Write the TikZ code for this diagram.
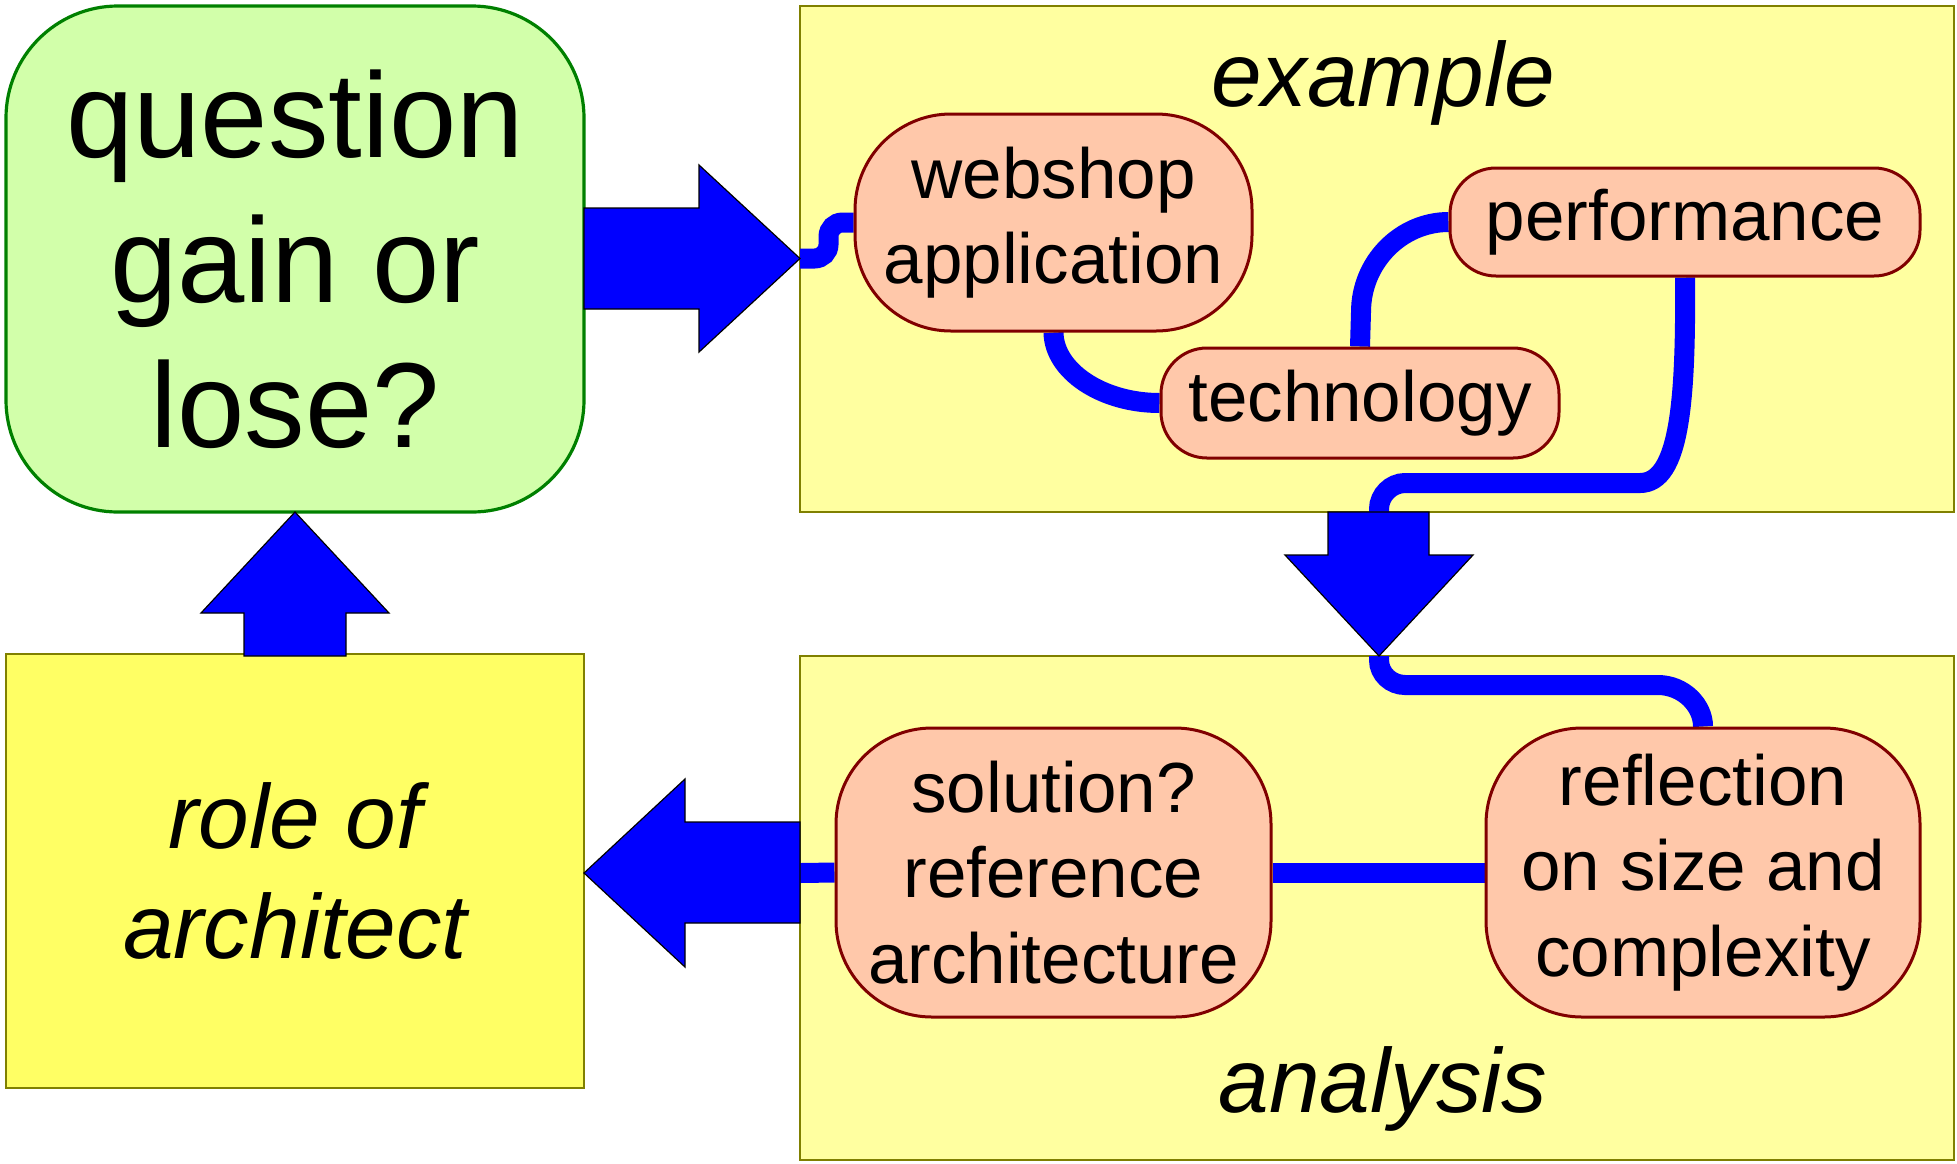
\documentclass[tikz,border=0pt]{standalone}
\usepackage{fontspec}
\setmainfont{Liberation Sans}

\definecolor{qfill}{RGB}{210,255,170}
\definecolor{qline}{RGB}{0,128,0}
\definecolor{exfill}{RGB}{255,255,160}
\definecolor{rolefill}{RGB}{255,255,100}
\definecolor{boxline}{RGB}{128,128,0}
\definecolor{pillfill}{RGB}{255,200,170}
\definecolor{pillline}{RGB}{128,0,0}
\definecolor{flow}{RGB}{0,0,255}

\newcommand{\pillfont}{\fontsize{35.5pt}{42.6pt}\selectfont}
\newcommand{\titlefont}{\fontsize{45.5pt}{55pt}\selectfont\itshape}
\newcommand{\bigfont}{\fontsize{60.5pt}{72.5pt}\selectfont}

% containers at the back, flow lines between them and the topic nodes
\pgfdeclarelayer{areas}
\pgfdeclarelayer{flows}
\pgfsetlayers{areas,flows,main}

\begin{document}
\begin{tikzpicture}[x=0.5pt,y=-0.5pt,
  area/.style={draw=boxline, line width=1.4pt, inner sep=0pt},
  pill/.style={draw=pillline, fill=pillfill, line width=1.5pt, align=center,
               font=\pillfont, inner sep=0pt},
  conn/.style={draw=flow, line width=10pt},
  blockarrow/.style={fill=flow, draw=black, line width=0.6pt, line join=miter},
  title/.style={font=\titlefont, anchor=base, inner sep=0pt},
]
\begin{pgfonlayer}{areas}
\useasboundingbox[fill=white] (0,0) rectangle (1957,1163);
\node[draw=qline, fill=qfill, line width=1.6pt, rounded corners=56pt,
      minimum width=289pt, minimum height=253pt, align=center, font=\bigfont,
      inner sep=0pt]
  (question) at (295,259) {question\\gain or\\lose?};
\node[area, fill=rolefill, minimum width=289pt, minimum height=217pt,
      align=center, font=\titlefont]
  (role) at (295,871) {role of\\architect};
\node[area, fill=exfill, minimum width=577pt, minimum height=253pt]
  (example) at (1377,259) {};
\node[area, fill=exfill, minimum width=577pt, minimum height=252pt]
  (analysis) at (1377,908) {};
\node[title] (extitle) at (1383,106) {example};
\node[title] (antitle) at (1383,1112) {analysis};
\end{pgfonlayer}

% topic nodes
\node[pill, rounded corners=48pt, minimum width=198.5pt, minimum height=108.5pt]
  (web) at (1053.5,222.5) {webshop\\application};
\node[pill, rounded corners=23pt, minimum width=235pt, minimum height=54pt]
  (perf) at (1685,222) {performance};
\node[pill, rounded corners=23pt, minimum width=199pt, minimum height=55pt]
  (tech) at (1360,403) {technology};
\node[pill, rounded corners=48pt, minimum width=217.5pt, minimum height=144.5pt]
  (sol) at (1053.5,872.5) {solution?\\reference\\architecture};
\node[pill, rounded corners=48pt, minimum width=217pt, minimum height=144.5pt]
  (refl) at (1703,872.5) {reflection\\on size and\\complexity};

% ends of the block arrows
\coordinate (rtail) at (584,258.5);
\coordinate (rtip)  at (800,258.5);
\coordinate (dtail) at (1379,512);
\coordinate (dtip)  at (1379,656);
\coordinate (ltail) at (800,873);
\coordinate (ltip)  at (584,873);
\coordinate (utail) at (295,656);
\coordinate (utip)  at (295,512);

% flow lines
\begin{pgfonlayer}{flows}
\draw[conn, rounded corners=7pt] (rtip) -| ([xshift=-12.5pt]web.west) -- (web.west);
\draw[conn] (web.south) .. controls (1054,371) and (1102,403) .. (tech.west);
\draw[conn] (tech.north) -- (1361,312) .. controls (1361,262) and (1401,222) .. (perf.west);
\draw[conn] (perf.south) .. controls (1686,400) and (1680,483) .. (1640,483)
  -- (1405,483) .. controls (1391,483) and (1379,495) .. (1379,509) -- (dtail);
\draw[conn] (dtip) -- (1379,660) .. controls (1379,674) and (1391,685) .. (1405,685)
  -- (1658,685) .. controls (1683,685) and (1703,705) .. (refl.north);
\draw[conn] (sol.west) -- (ltail);
\draw[conn] (sol.east) -- (refl.west);
\end{pgfonlayer}

% block arrows between the containers
\filldraw[blockarrow] (rtail) -- (584,208) -- (699,208) -- (699,165) -- (rtip)
  -- (699,352) -- (699,309) -- (584,309) -- cycle;
\filldraw[blockarrow] (1328,512) -- (1429,512) -- (1429,555) -- (1473,555)
  -- (dtip) -- (1285,555) -- (1328,555) -- cycle;
\filldraw[blockarrow] (800,822) -- (685,822) -- (685,779) -- (ltip)
  -- (685,967) -- (685,923) -- (800,923) -- cycle;
\filldraw[blockarrow] (244,656) -- (244,613) -- (201,613) -- (utip)
  -- (389,613) -- (346,613) -- (346,656) -- cycle;
\end{tikzpicture}
\end{document}
